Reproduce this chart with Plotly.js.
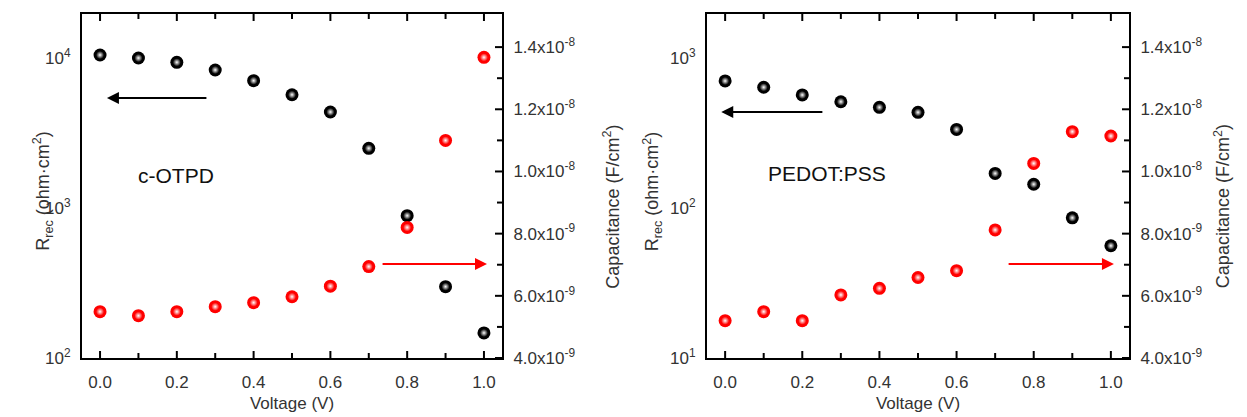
<!DOCTYPE html>
<html>
<head>
<meta charset="utf-8">
<script src="https://cdn.plot.ly/plotly-3.0.1.min.js"></script>
<style>html,body{margin:0;padding:0;background:#fff;}#chart{width:1247px;height:417px;}</style>
</head>
<body>
<div id="chart"></div>
<script>
// ---- data ----
const voltage = [0.0, 0.1, 0.2, 0.3, 0.4, 0.5, 0.6, 0.7, 0.8, 0.9, 1.0];
// c-OTPD panel
const otpdRrec = [10470, 10000, 9360, 8320, 7060, 5690, 4365, 2500, 889, 299, 147];            // ohm·cm²
const otpdCap  = [5.49e-9, 5.36e-9, 5.49e-9, 5.65e-9, 5.78e-9, 5.97e-9, 6.31e-9, 6.94e-9, 8.2e-9, 1.10e-8, 1.367e-8]; // F/cm²
// PEDOT:PSS panel
const pedotRrec = [703, 638, 567, 511, 469, 434, 334, 170, 144, 86, 56];
const pedotCap  = [5.2e-9, 5.49e-9, 5.2e-9, 6.03e-9, 6.24e-9, 6.59e-9, 6.81e-9, 8.12e-9, 1.026e-8, 1.128e-8, 1.114e-8];

const panelLabels = ['c-OTPD', 'PEDOT:PSS'];
const xTickVals = [0, 0.2, 0.4, 0.6, 0.8, 1.0];
const xTickText = ['0.0', '0.2', '0.4', '0.6', '0.8', '1.0'];
const capTickVals = [4e-9, 6e-9, 8e-9, 1.0e-8, 1.2e-8, 1.4e-8];
const capTickText = ['4.0x10<sup>-9</sup>', '6.0x10<sup>-9</sup>', '8.0x10<sup>-9</sup>',
                     '1.0x10<sup>-8</sup>', '1.2x10<sup>-8</sup>', '1.4x10<sup>-8</sup>'];

// ---- helpers ----
function logMajor(minExp, maxExp) {
  const vals = [], text = [];
  for (let e = minExp; e <= maxExp; e++) { vals.push(Math.pow(10, e)); text.push('10<sup>' + e + '</sup>'); }
  return {vals, text};
}
function sphereTraces(x, y, xa, ya, color) {
  return [
    {x, y, xaxis: xa, yaxis: ya, type: 'scatter', mode: 'markers', hoverinfo: 'skip',
     marker: {size: 13, color: color, line: {width: 0}}},
    {x, y, xaxis: xa, yaxis: ya, type: 'scatter', mode: 'markers', hoverinfo: 'skip',
     marker: {size: 8, color: color, line: {width: 0},
              gradient: {type: 'radial', color: '#ffffff'}}}
  ];
}

const W = 1247, PLOT_H = 344;
const textColor = '#333333';
const baseFont = {family: 'Liberation Sans, Arial, sans-serif', color: textColor, size: 15};

// tick marks drawn inside the frame as short lines, positioned through the axes
const shapes = [];
function tickLine(o) { shapes.push(Object.assign({type: 'line', layer: 'above', line: {color: '#000000', width: 2}}, o)); }
function xTicks(xa, ya, widthPx) {
  for (let i = 0; i <= 10; i++) {
    const v = i / 10, len = (i % 2 === 0 ? 7 : 5) / PLOT_H;
    tickLine({xref: xa, yref: ya + ' domain', x0: v, x1: v, y0: 0, y1: len});
    tickLine({xref: xa, yref: ya + ' domain', x0: v, x1: v, y0: 1, y1: 1 - len});
  }
}
function logTicks(xa, ya, minExp, maxExp, topLog, widthPx) {
  for (let e = minExp; e <= maxExp; e++) {
    for (let d = 1; d <= 9; d++) {
      const lv = Math.log10(d * Math.pow(10, e));
      if (lv > topLog) break;
      const len = (d === 1 ? 7 : 5) / widthPx;
      tickLine({xref: xa + ' domain', yref: ya, x0: 0, x1: len, y0: lv, y1: lv});
    }
  }
}
function capTicks(xa, ya, widthPx) {
  for (let i = 0; i <= 10; i++) {
    const v = 4e-9 + i * 1e-9, len = (i % 2 === 0 ? 7 : 5) / widthPx;
    tickLine({xref: xa + ' domain', yref: ya, x0: 1, x1: 1 - len, y0: v, y1: v});
  }
}
xTicks('x', 'y', 420); logTicks('x', 'y', 2, 4, 4.2933, 420); capTicks('x', 'y2', 420);
xTicks('x2', 'y3', 422); logTicks('x2', 'y3', 1, 3, 3.2933, 422); capTicks('x2', 'y4', 422);

const xCommon = {
  range: [-0.047, 1.047], tickmode: 'array', tickvals: xTickVals, ticktext: xTickText,
  ticks: '', showline: true, linecolor: '#000000', linewidth: 2, mirror: true,
  showgrid: false, zeroline: false, ticklabelstandoff: 8,
  tickfont: {size: 17, color: textColor},
  title: {text: 'Voltage (V)', font: {size: 17, color: textColor}, standoff: 6}
};
const yLogCommon = {
  type: 'log', tickmode: 'array', ticks: '',
  showline: true, linecolor: '#000000', linewidth: 2, mirror: false,
  showgrid: false, zeroline: false, ticklabelstandoff: 6,
  tickfont: {size: 17, color: textColor}
};
const yCapCommon = {
  range: [4e-9, 1.5065e-8], tickmode: 'array', tickvals: capTickVals, ticktext: capTickText,
  ticks: '', showline: true, linecolor: '#000000', linewidth: 2, side: 'right',
  showgrid: false, zeroline: false, ticklabelstandoff: 6,
  tickfont: {size: 17, color: textColor}
};

const m1 = logMajor(2, 4), m3 = logMajor(1, 3);

const traces = [].concat(
  sphereTraces(voltage, otpdRrec, 'x', 'y', '#000000'),
  sphereTraces(voltage, otpdCap, 'x', 'y2', '#ff0000'),
  sphereTraces(voltage, pedotRrec, 'x2', 'y3', '#000000'),
  sphereTraces(voltage, pedotCap, 'x2', 'y4', '#ff0000')
);

const layout = {
  width: 1247, height: 417,
  margin: {l: 0, r: 0, t: 14, b: 59},
  paper_bgcolor: '#ffffff', plot_bgcolor: '#ffffff',
  showlegend: false, font: baseFont,
  xaxis: Object.assign({}, xCommon, {domain: [82 / W, 502 / W], anchor: 'y'}),
  yaxis: Object.assign({}, yLogCommon, {range: [2, 4.2933], tickvals: m1.vals, ticktext: m1.text, anchor: 'x'}),
  yaxis2: Object.assign({}, yCapCommon, {overlaying: 'y', anchor: 'x'}),
  xaxis2: Object.assign({}, xCommon, {domain: [707 / W, 1129 / W], anchor: 'y3'}),
  yaxis3: Object.assign({}, yLogCommon, {range: [1, 3.2933], tickvals: m3.vals, ticktext: m3.text, anchor: 'x2'}),
  yaxis4: Object.assign({}, yCapCommon, {overlaying: 'y3', anchor: 'x2'}),
  shapes: shapes,
  annotations: [
    {xref: 'paper', yref: 'paper', x: 28 / W, y: 0.485, textangle: -90, showarrow: false,
     text: 'R<sub>rec</sub> (ohm·cm<sup>2</sup>)', font: {size: 18, color: textColor}},
    {xref: 'paper', yref: 'paper', x: 612 / W, y: 0.44, textangle: -90, showarrow: false,
     text: 'Capacitance (F/cm<sup>2</sup>)', font: {size: 18, color: textColor}},
    {xref: 'paper', yref: 'paper', x: 652 / W, y: 0.485, textangle: -90, showarrow: false,
     text: 'R<sub>rec</sub> (ohm·cm<sup>2</sup>)', font: {size: 18, color: textColor}},
    {xref: 'paper', yref: 'paper', x: 1236 / W, y: 0.44, textangle: -90, showarrow: false,
     text: 'Capacitance (F/cm<sup>2</sup>)', font: {size: 18, color: textColor}},
    {xref: 'x', yref: 'y', x: 0.198, y: 3.22, showarrow: false, text: panelLabels[0],
     font: {size: 21, color: '#111111'}},
    {xref: 'x2', yref: 'y3', x: 0.264, y: 2.227, showarrow: false, text: panelLabels[1],
     font: {size: 21, color: '#111111'}},
    {xref: 'x', yref: 'y', x: 0.018, y: 3.733, axref: 'x', ayref: 'y', ax: 0.281, ay: 3.733,
     showarrow: true, arrowhead: 2, arrowsize: 1.2, arrowwidth: 2, arrowcolor: '#000000', text: ''},
    {xref: 'x', yref: 'y2', x: 1.008, y: 7.02e-9, axref: 'x', ayref: 'y2', ax: 0.732, ay: 7.02e-9,
     showarrow: true, arrowhead: 2, arrowsize: 1.2, arrowwidth: 2, arrowcolor: '#ff0000', text: ''},
    {xref: 'x2', yref: 'y3', x: -0.01, y: 2.64, axref: 'x2', ayref: 'y3', ax: 0.256, ay: 2.64,
     showarrow: true, arrowhead: 2, arrowsize: 1.2, arrowwidth: 2, arrowcolor: '#000000', text: ''},
    {xref: 'x2', yref: 'y4', x: 1.008, y: 7.02e-9, axref: 'x2', ayref: 'y4', ax: 0.731, ay: 7.02e-9,
     showarrow: true, arrowhead: 2, arrowsize: 1.2, arrowwidth: 2, arrowcolor: '#ff0000', text: ''}
  ]
};

Plotly.newPlot('chart', traces, layout, {staticPlot: true, displayModeBar: false});
</script>
</body>
</html>
